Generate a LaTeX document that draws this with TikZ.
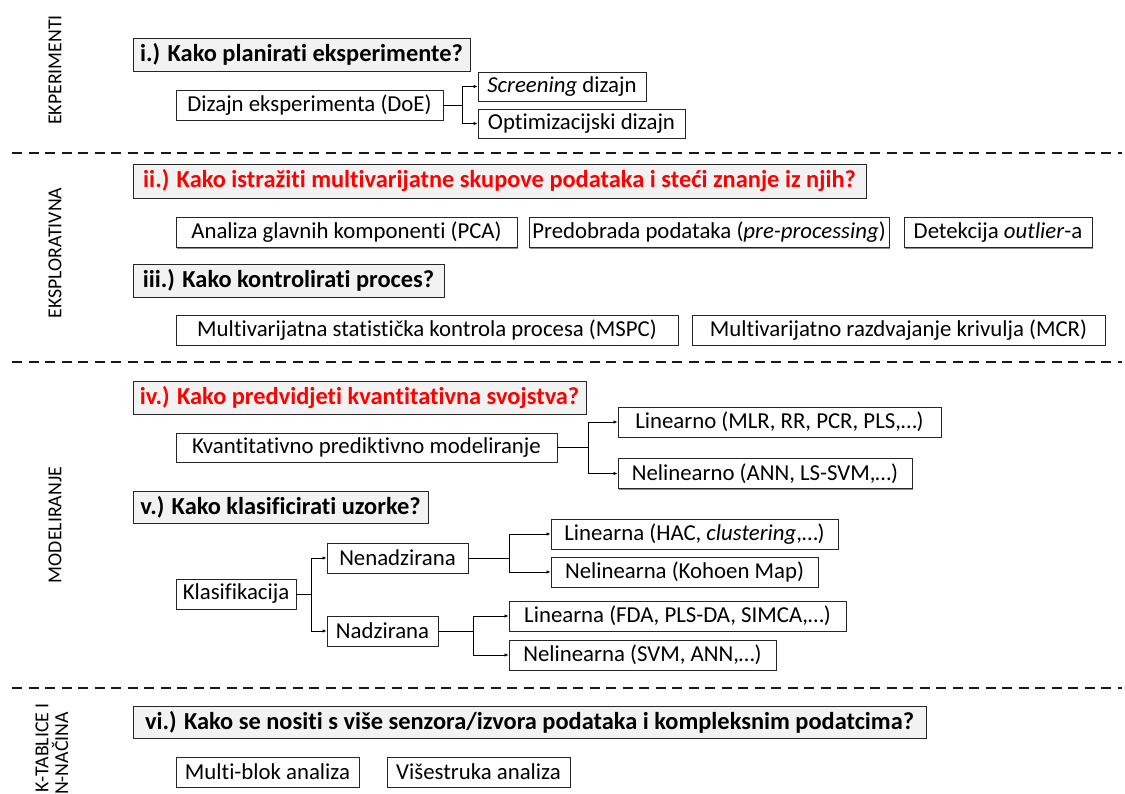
\documentclass[tikz,border=0pt]{standalone}
\usepackage{fontspec}
\setmainfont{Carlito}[Ligatures={NoCommon}]
\usetikzlibrary{shadows,arrows.meta}
\newcommand\myBody{\fontsize{22.8}{26}\selectfont}
\newcommand\myTitle{\fontsize{24.4}{28}\selectfont\bfseries}
\newcommand\myLab{\fontsize{19.8}{22}\selectfont}
\definecolor{ttlfill}{HTML}{F2F2F2}
\definecolor{qred}{HTML}{FF0000}
\begin{document}
\begin{tikzpicture}[x=1pt,y=-1pt,
  box/.style={draw=black!85, line width=0.9pt, fill=white, inner sep=0pt, font=\myBody,
    drop shadow={shadow xshift=1.3pt, shadow yshift=-1.3pt, opacity=0.45, fill=black}},
  ttl/.style={box, fill=ttlfill, font=\myTitle},
  arr/.style={line width=0.8pt, draw=black, -{Latex[length=4pt,width=3.5pt]}},
  sepline/.style={line width=1.8pt, draw=black!90, dash pattern=on 10pt off 6.5pt},
  vlab/.style={font=\myLab, rotate=90, inner sep=0pt}]
\useasboundingbox[fill=white] (0,0) rectangle (1125,794);

% separators
\coordinate (s1a) at (12,153); \coordinate (s1b) at (1122,153);
\coordinate (s2a) at (12,362); \coordinate (s2b) at (1122,362);
\coordinate (s3a) at (12,688); \coordinate (s3b) at (1122,688);
\draw[sepline] (s1a) -- (s1b);
\draw[sepline] (s2a) -- (s2b);
\draw[sepline] (s3a) -- (s3b);

% side labels
\node[vlab] (l1) at (55,70) {EKPERIMENTI};
\node[vlab] (l2) at (55,253) {EKSPLORATIVNA};
\node[vlab] (l3) at (55,525) {MODELIRANJE};
\node[vlab, anchor=east] (l4a) at (42,703) {K-TABLICE I};
\node[vlab, anchor=east] (l4b) at (60,712) {N-NAČINA};

% section i
\node[ttl, minimum width=337pt, minimum height=33pt] (t1) at (301.5,54.5) {i.) Kako planirati eksperimente?};
\node[box, minimum width=267pt, minimum height=30pt] (doe) at (309.5,105) {Dizajn eksperimenta (DoE)};
\node[box, minimum width=168pt, minimum height=29pt] (scr) at (562,86.5) {\textit{Screening} dizajn};
\node[box, minimum width=207pt, minimum height=29pt] (opt) at (581.5,123.5) {Optimizacijski dizajn};
\draw[arr] (doe.east) -- ++(19,0) |- (scr.west);
\draw[arr] (doe.east) -- ++(19,0) |- (opt.west);

% section ii / iii
\node[ttl, text=qred, minimum width=733pt, minimum height=34pt] (t2) at (499.5,181) {ii.) Kako istražiti multivarijatne skupove podataka i steći znanje iz njih?};
\node[box, minimum width=341pt, minimum height=30pt] (pca) at (346.5,232.5) {Analiza glavnih komponenti (PCA)};
\node[box, minimum width=360pt, minimum height=30pt] (pre) at (709,232.5) {Predobrada podataka (\textit{pre-processing})};
\node[box, minimum width=188pt, minimum height=30pt] (out) at (998,232.5) {Detekcija \textit{outlier}-a};
\node[ttl, minimum width=311pt, minimum height=33pt] (t3) at (288.5,280.5) {iii.) Kako kontrolirati proces?};
\node[box, minimum width=502pt, minimum height=30pt] (mspc) at (427,330) {Multivarijatna statistička kontrola procesa (MSPC)};
\node[box, minimum width=413pt, minimum height=30pt] (mcr) at (898.5,330) {Multivarijatno razdvajanje krivulja (MCR)};

% section iv
\node[ttl, text=qred, minimum width=453pt, minimum height=33pt] (t4) at (359.5,397.5) {iv.) Kako predvidjeti kvantitativna svojstva?};
\node[box, minimum width=381pt, minimum height=29pt] (kv) at (366.5,447.5) {Kvantitativno prediktivno modeliranje};
\node[box, minimum width=323pt, minimum height=30pt] (lin) at (779.5,422) {Linearno (MLR, RR, PCR, PLS,…)};
\node[box, minimum width=294pt, minimum height=30pt] (nlin) at (765,473.5) {Nelinearno (ANN, LS-SVM,…)};
\draw[arr] (kv.east) -- ++(31,0) |- (lin.west);
\draw[arr] (kv.east) -- ++(31,0) |- (nlin.west);

% section v
\node[ttl, minimum width=295pt, minimum height=32pt] (t5) at (280.5,507) {v.) Kako klasificirati uzorke?};
\node[box, minimum width=120pt, minimum height=30pt] (kl) at (236,594) {Klasifikacija};
\node[box, minimum width=141pt, minimum height=30pt] (nen) at (397.5,558) {Nenadzirana};
\node[box, minimum width=111pt, minimum height=30pt] (nad) at (382.5,631) {Nadzirana};
\node[box, minimum width=287pt, minimum height=30pt] (l1a) at (694.5,534) {Linearna (HAC, \textit{clustering},…)};
\node[box, minimum width=267pt, minimum height=30pt] (n1a) at (684.5,572) {Nelinearna (Kohoen Map)};
\node[box, minimum width=337pt, minimum height=30pt] (l2a) at (677.5,616) {Linearna (FDA, PLS-DA, SIMCA,…)};
\node[box, minimum width=267pt, minimum height=30pt] (n2a) at (642.5,655) {Nelinearna (SVM, ANN,…)};
\draw[arr] (kl.east) -- ++(15,0) |- (nen.west);
\draw[arr] (kl.east) -- ++(15,0) |- (nad.west);
\draw[arr] (nen.east) -- ++(41,0) |- (l1a.west);
\draw[arr] (nen.east) -- ++(41,0) |- (n1a.west);
\draw[arr] (nad.east) -- ++(35,0) |- (l2a.west);
\draw[arr] (nad.east) -- ++(35,0) |- (n2a.west);

% section vi
\node[ttl, minimum width=793pt, minimum height=32pt] (t6) at (529.5,722) {vi.) Kako se nositi s više senzora/izvora podataka i kompleksnim podatcima?};
\node[box, minimum width=183pt, minimum height=30pt] (mb) at (267.5,772) {Multi-blok analiza};
\node[box, minimum width=183pt, minimum height=30pt] (vs) at (478.5,772) {Višestruka analiza};
\end{tikzpicture}
\end{document}
